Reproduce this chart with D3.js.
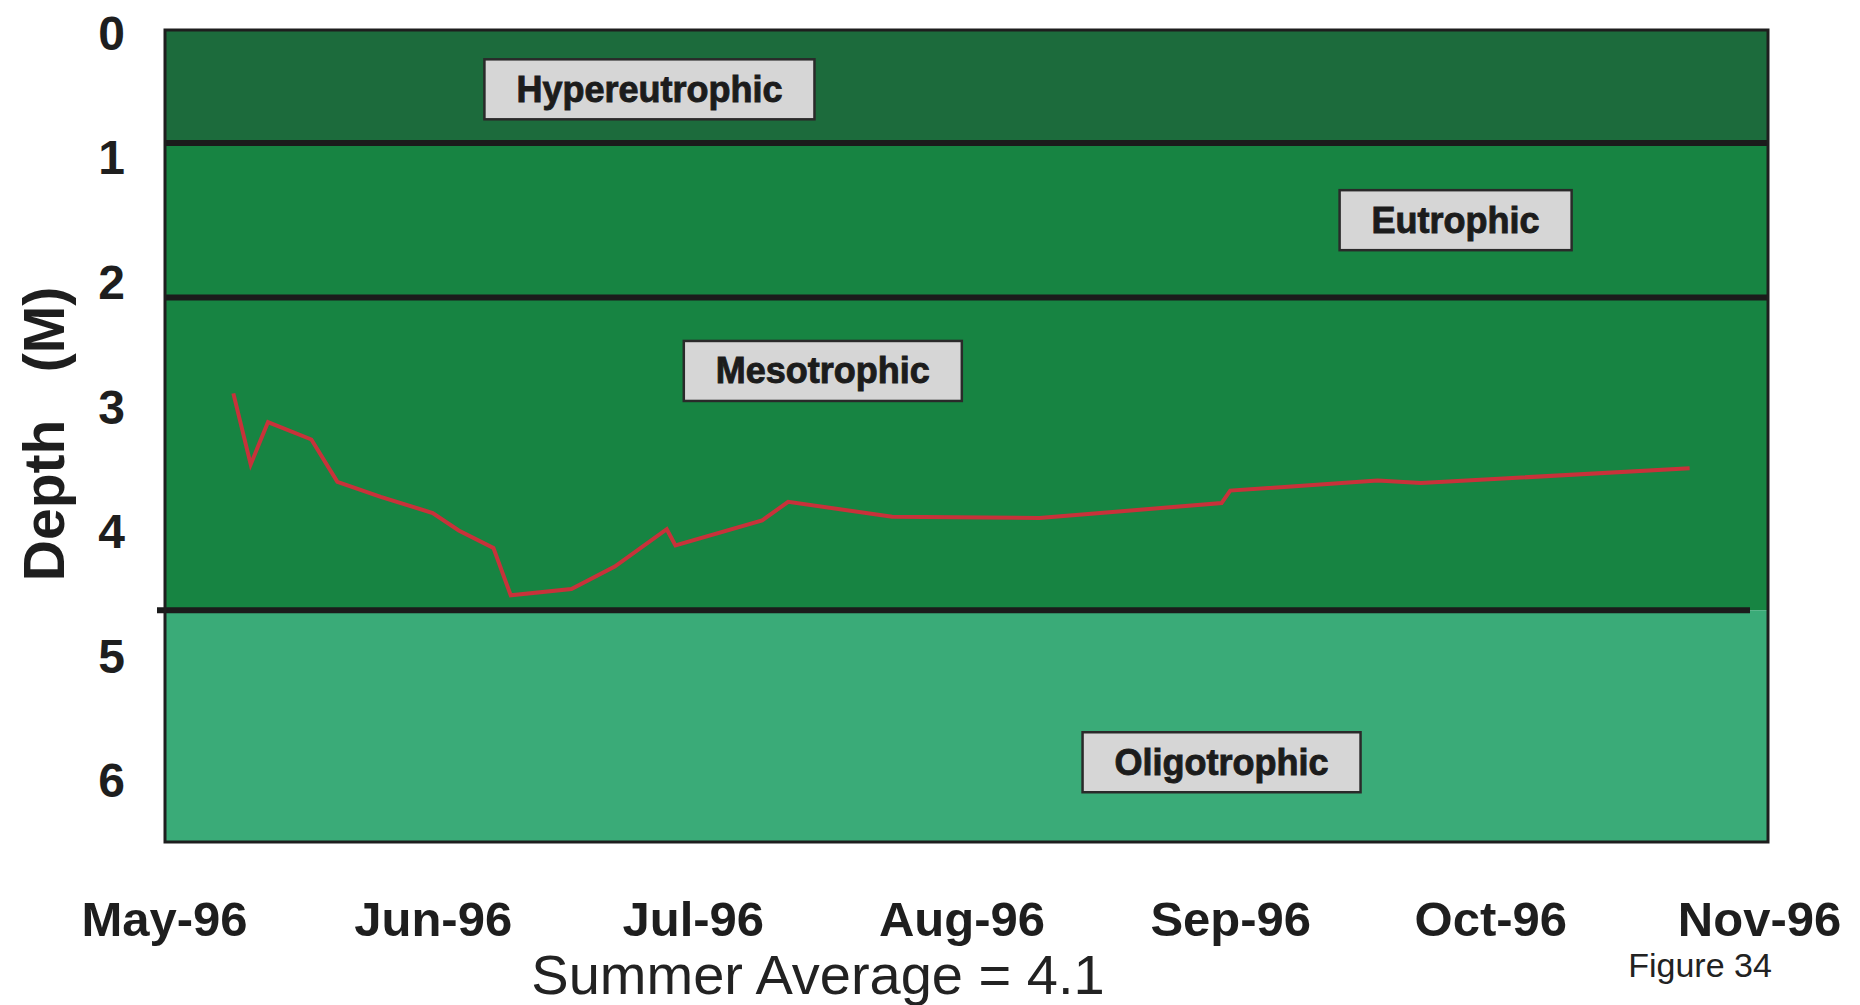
<!DOCTYPE html>
<html>
<head>
<meta charset="utf-8">
<script src="https://cdn.jsdelivr.net/npm/d3@7"></script>
<style>
  html, body { margin: 0; padding: 0; background: #ffffff; }
  svg { display: block; }
  text { font-family: "Liberation Sans", Arial, sans-serif; }
</style>
</head>
<body>
<svg id="chart" width="1860" height="1005"></svg>
<script>
// ---------- data ----------
const sampleDates = ["1996-05-09","1996-05-11","1996-05-13","1996-05-18","1996-05-21","1996-05-26",
  "1996-06-01","1996-06-04","1996-06-08","1996-06-10","1996-06-17","1996-06-22","1996-06-28","1996-06-29",
  "1996-07-09","1996-07-12","1996-07-24","1996-08-10","1996-08-17","1996-08-31","1996-09-01",
  "1996-09-18","1996-09-23","1996-10-24"];
const secchiDepth = [2.90, 3.47, 3.13, 3.27, 3.61, 3.73,
  3.86, 4.00, 4.14, 4.52, 4.47, 4.29, 3.99, 4.12,
  3.92, 3.77, 3.89, 3.90, 3.86, 3.78, 3.68,
  3.60, 3.62, 3.50];
const xTickLabels = ["May-96","Jun-96","Jul-96","Aug-96","Sep-96","Oct-96","Nov-96"];
const yTickValues = [0, 1, 2, 3, 4, 5, 6];
const zoneNames = ["Hypereutrophic", "Eutrophic", "Mesotrophic", "Oligotrophic"];
const zoneTop = [0, 0.89, 2.13, 4.64];
const zoneBottom = [0.89, 2.13, 4.64, 6.5];
const zoneLabelDate = ["1996-06-26", "1996-09-27", "1996-07-16", "1996-08-31"];
const zoneLabelDepth = [0.46, 1.51, 2.72, 5.86];
const summerAverage = 4.1;
const figureLabel = "Figure 34";

// ---------- layout ----------
const parse = d3.timeParse("%Y-%m-%d");
const svg = d3.select("#chart");
const plotLeft = 165, plotRight = 1768;

const x = d3.scaleTime()
  .domain([parse("1996-05-01"), parse("1996-11-01")])
  .range([164, 1759]);
const y = d3.scaleLinear().domain([0, 6.5]).range([32, 842]);

const zoneFill = ["#1c6b3c", "#178442", "#178442", "#3aab78"];

// bands
svg.append("g").selectAll("rect")
  .data(zoneNames)
  .join("rect")
  .attr("x", plotLeft)
  .attr("width", plotRight - plotLeft)
  .attr("y", (d, i) => y(zoneTop[i]) - (i === 0 ? 2 : 0))
  .attr("height", (d, i) => y(zoneBottom[i]) - y(zoneTop[i]) + (i === 0 ? 2 : 0))
  .attr("fill", (d, i) => zoneFill[i]);

// boundary lines
const boundaries = zoneTop.slice(1);
svg.append("g").selectAll("line")
  .data(boundaries)
  .join("line")
  .attr("x1", (d, i) => i === 2 ? plotLeft - 8 : plotLeft)
  .attr("x2", (d, i) => i === 2 ? plotRight - 18 : plotRight)
  .attr("y1", d => y(d))
  .attr("y2", d => y(d))
  .attr("stroke", "#1b1b1b")
  .attr("stroke-width", 6);

// plot border
svg.append("rect")
  .attr("x", plotLeft).attr("y", y(0) - 2)
  .attr("width", plotRight - plotLeft)
  .attr("height", y(6.5) - y(0) + 2)
  .attr("fill", "none")
  .attr("stroke", "#1e1e1e")
  .attr("stroke-width", 3);

// zone labels
const labels = svg.append("g");
zoneNames.forEach((name, i) => {
  const cx = x(parse(zoneLabelDate[i]));
  const cy = y(zoneLabelDepth[i]);
  const g = labels.append("g");
  const t = g.append("text")
    .attr("x", cx).attr("y", cy)
    .attr("text-anchor", "middle")
    .attr("dominant-baseline", "central")
    .attr("font-size", 36)
    .attr("font-weight", "bold")
    .attr("fill", "#1c1c1c")
    .attr("stroke", "#1c1c1c")
    .attr("stroke-width", 0.9)
    .text(name);
  const bb = t.node().getBBox();
  g.insert("rect", "text")
    .attr("x", bb.x - 32)
    .attr("y", cy - 30)
    .attr("width", bb.width + 64)
    .attr("height", 60)
    .attr("fill", "#d6d6d6")
    .attr("stroke", "#2a2a2a")
    .attr("stroke-width", 2.5);
});

// data line
const line = d3.line()
  .x((d, i) => x(parse(sampleDates[i])))
  .y(d => y(d));
svg.append("path")
  .datum(secchiDepth)
  .attr("d", line)
  .attr("fill", "none")
  .attr("stroke", "#c8323a")
  .attr("stroke-width", 4)
  .attr("stroke-linejoin", "miter");

// y axis
const yAxis = d3.axisLeft(y).tickValues(yTickValues).tickSize(0).tickPadding(0)
  .tickFormat(d3.format("d"));
const gy = svg.append("g").attr("transform", "translate(125,0)").call(yAxis);
gy.select(".domain").remove();
gy.selectAll("text")
  .attr("x", 0)
  .attr("dy", "0.36em")
  .attr("font-size", 48)
  .attr("font-weight", "bold")
  .attr("font-family", "'Liberation Sans', Arial, sans-serif")
  .attr("fill", "#1e1e1e");

// x axis
const xAxis = d3.axisBottom(x)
  .ticks(d3.timeMonth.every(1))
  .tickSize(0)
  .tickFormat((d, i) => xTickLabels[i]);
const gx = svg.append("g").attr("transform", "translate(0,936)").call(xAxis);
gx.select(".domain").remove();
gx.selectAll("text")
  .attr("y", 0)
  .attr("dy", 0)
  .attr("font-size", 49)
  .attr("font-weight", "bold")
  .attr("font-family", "'Liberation Sans', Arial, sans-serif")
  .attr("fill", "#1e1e1e");

// y axis title
svg.append("text")
  .attr("transform", "translate(64,434) rotate(-90)")
  .attr("text-anchor", "middle")
  .attr("font-size", 57)
  .attr("font-weight", "bold")
  .attr("fill", "#1e1e1e")
  .style("white-space", "pre")
  .text("Depth   (M)");

// summer average
svg.append("text")
  .attr("x", 818).attr("y", 994)
  .attr("text-anchor", "middle")
  .attr("font-size", 56)
  .attr("fill", "#222")
  .text("Summer Average = " + summerAverage);

svg.append("text")
  .attr("x", 1700).attr("y", 977)
  .attr("text-anchor", "middle")
  .attr("font-size", 34)
  .attr("fill", "#222")
  .text(figureLabel);
</script>
</body>
</html>
